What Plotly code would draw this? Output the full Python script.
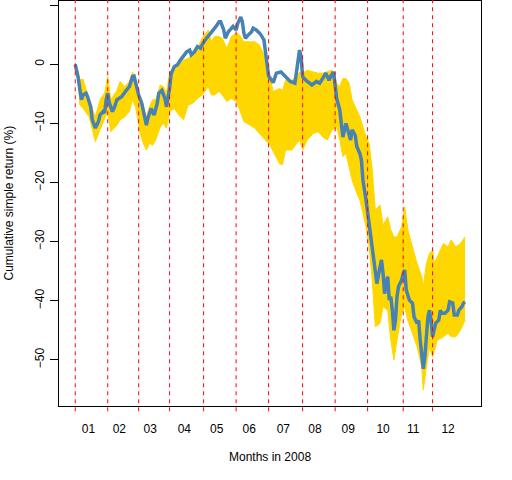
import plotly.graph_objects as go

# ---- data (trading-day index, % return) ----
blue_day = [1, 2, 3, 4, 5, 6, 8, 9, 11, 12, 14, 16, 17, 19, 20, 21, 22, 23, 25, 26, 28, 31, 33, 34, 36, 38, 39, 40,
            42, 44, 45, 47, 48, 50, 52, 54, 55, 57, 59, 60, 62, 63, 65, 67, 69, 71, 73, 75, 76, 78, 80, 82, 83, 85,
            87, 89, 90, 92, 94, 95, 97, 98, 100, 102, 103, 105, 106, 108, 109, 110, 111, 113, 115, 116, 118, 120,
            121, 123, 124, 125, 126, 129, 131, 134, 136, 138, 140, 143, 144, 146, 147, 148, 150, 152, 154, 157, 159,
            161, 163, 165, 166, 168, 169, 170, 172, 173, 174, 176, 177, 179, 180, 182, 183, 185, 186, 187, 189, 191,
            192, 194, 195, 196, 198, 199, 200, 201, 202, 203, 204, 205, 206, 207, 208, 209, 210, 212, 213, 214, 215,
            217, 219, 220, 222, 223, 224, 226, 227, 228, 229, 230, 231, 232, 233, 234, 236, 237, 238, 240, 242, 243,
            245, 246, 248, 249, 251, 252, 253]
blue_ret = [0.0, -1.0, -2.4, -4.3, -6.0, -5.2, -4.9, -5.5, -7.2, -9.4, -10.8, -9.7, -8.6, -8.0, -8.2, -6.0, -4.9, -6.5,
            -8.0, -7.5, -6.0, -5.5, -4.6, -4.4, -3.8, -2.1, -2.0, -3.2, -5.2, -6.6, -7.7, -10.3, -9.1, -7.5, -8.6, -6.6,
            -4.9, -4.4, -5.8, -7.2, -4.0, -1.6, -0.4, -0.1, 0.7, 1.3, 2.1, 2.4, 1.6, 2.1, 3.0, 2.7, 3.3, 4.1, 4.7, 5.3,
            5.8, 6.4, 7.2, 7.2, 5.8, 4.4, 5.5, 6.1, 6.4, 5.8, 6.9, 8.0, 7.2, 5.3, 4.4, 5.0, 5.5, 6.1, 5.8, 5.3, 5.0, 4.1,
            2.1, 0.7, -2.0, -3.1, -1.5, -1.3, -1.8, -2.4, -2.9, -3.2, -1.5, 2.4, 1.3, -2.1, -2.7, -3.2, -3.5, -2.9, -3.2,
            -2.4, -1.5, -2.7, -2.1, -1.3, -3.2, -5.8, -7.7, -10.3, -12.3, -10.0, -11.1, -12.8, -11.1, -12.0, -13.9,
            -15.1, -16.2, -19.6, -23.0, -26.9, -29.7, -32.6, -35.4, -37.1, -34.3, -33.1, -35.4, -38.8, -37.1, -35.9,
            -39.9, -39.3, -41.6, -45.0, -43.3, -39.3, -37.6, -36.5, -35.4, -34.8, -38.2, -39.9, -40.4, -42.7, -43.8,
            -43.3, -46.7, -51.5, -49.5, -45.5, -42.7, -41.6, -43.3, -46.1, -45.0, -43.8, -43.3, -41.6, -42.1, -42.1,
            -41.6, -40.2, -40.4, -42.4, -42.4, -41.6, -41.0, -40.4, -40.2]

band_day = [1, 3, 4, 6, 10, 14, 17, 20, 22, 24, 28, 30, 33, 36, 38, 40, 43, 45, 47, 49, 51, 53, 56, 58, 60, 62, 65,
            68, 71, 74, 77, 80, 83, 87, 89, 91, 94, 96, 99, 102, 105, 107, 110, 114, 117, 120, 123, 127, 129, 133,
            135, 137, 141, 144, 146, 148, 151, 155, 158, 161, 164, 167, 170, 172, 174, 176, 178, 180, 183, 185, 187,
            189, 191, 193, 195, 198, 200, 203, 205, 207, 209, 212, 214, 216, 219, 222, 225, 226, 228, 230, 232, 233,
            235, 239, 242, 244, 247, 250, 253]
band_upper = [0.0, -1.3, -2.7, -2.5, -6.0, -8.9, -6.0, -4.9, -2.1, -6.0, -4.4, -2.9, -3.8, -2.9, -1.3, -2.9, -6.0,
              -7.2, -8.9, -7.2, -6.0, -6.0, -3.5, -3.8, -4.9, -1.3, -1.0, -0.1, 0.7, 1.0, 1.6, 2.7, 4.4, 5.8, 3.8,
              4.7, 4.7, 4.4, 2.7, 4.7, 5.3, 5.0, 3.8, 3.8, 3.8, 3.3, 1.6, -2.4, -4.6, -4.1, -4.4, -2.7, -2.7, -2.1,
              -1.3, -1.5, -1.0, -1.3, -1.5, -1.5, -1.3, -1.0, -3.2, -3.8, -2.4, -2.4, -3.2, -6.0, -7.7, -8.9, -10.6,
              -12.3, -13.4, -17.9, -24.7, -23.8, -27.2, -25.8, -28.0, -29.2, -29.2, -27.5, -24.1, -28.0, -30.9,
              -33.7, -35.9, -37.6, -33.7, -32.0, -31.4, -33.7, -32.6, -30.3, -30.9, -29.7, -30.9, -30.3, -29.2]
band_lower = [0.0, -3.0, -6.9, -7.4, -8.9, -13.1, -11.1, -9.4, -8.0, -11.4, -10.3, -9.4, -8.9, -8.0, -6.0, -7.2,
              -11.7, -13.4, -14.5, -13.4, -13.7, -12.8, -10.6, -10.0, -10.8, -8.0, -7.5, -8.6, -9.4, -6.9, -6.6, -5.8,
              -5.2, -3.8, -5.2, -5.2, -4.6, -5.2, -6.3, -5.8, -6.3, -7.5, -9.7, -10.3, -10.8, -11.7, -12.5, -13.7,
              -14.8, -16.8, -17.0, -14.5, -14.5, -13.4, -12.8, -14.5, -12.8, -11.7, -11.4, -12.3, -12.8, -11.1,
              -10.6, -12.8, -15.6, -15.1, -17.3, -19.6, -21.8, -23.0, -25.2, -27.5, -30.9, -36.5, -44.4, -43.8,
              -41.0, -41.6, -46.7, -50.0, -46.7, -42.1, -41.0, -43.3, -45.5, -47.8, -51.2, -55.1, -51.2, -47.8,
              -49.5, -48.4, -46.7, -46.1, -45.5, -46.1, -46.1, -45.0, -43.3]

month_start = [1, 22, 42, 62, 84, 105, 126, 148, 169, 190, 213, 232]
month_tick_pos = [9.5, 29.5, 49.5, 71.5, 92.5, 113.5, 135.5, 156, 177.5, 200, 219.5, 242]
month_labels = ["01", "02", "03", "04", "05", "06", "07", "08", "09", "10", "11", "12"]
y_ticks = [-50, -40, -30, -20, -10, 0, 10]

FONT = "Liberation Sans, Arial, sans-serif"

fig = go.Figure()
fig.add_trace(go.Scatter(x=band_day, y=band_lower, mode="lines",
                         line=dict(color="#FFD700", width=1), hoverinfo="skip", showlegend=False))
fig.add_trace(go.Scatter(x=band_day, y=band_upper, mode="lines", fill="tonexty",
                         fillcolor="#FFD700", line=dict(color="#FFD700", width=1),
                         hoverinfo="skip", showlegend=False))
fig.add_trace(go.Scatter(x=blue_day, y=blue_ret, mode="lines",
                         line=dict(color="#4682B4", width=3.5), showlegend=False))

for d in month_start:
    fig.add_shape(type="line", xref="x", yref="paper", x0=d, x1=d, y0=-0.013, y1=1.003,
                  line=dict(color="red", width=1, dash="4px,4px"), layer="above")

fig.update_layout(
    width=512, height=480,
    margin=dict(l=59, r=31, t=1, b=74, autoexpand=False),
    paper_bgcolor="white", plot_bgcolor="white",
    font=dict(family=FONT, size=12, color="black"),
    xaxis=dict(range=[-9.5, 263.3], tickvals=month_tick_pos, ticktext=month_labels,
               ticks="", showgrid=False, zeroline=False, showline=True, mirror=True,
               linecolor="black", linewidth=1, ticklabelstandoff=12,
               tickfont=dict(family=FONT, size=12, color="black")),
    yaxis=dict(range=[-57.8, 10.7], tickvals=y_ticks, ticks="outside", ticklen=8,
               tickcolor="black", tickangle=-90, showgrid=False, zeroline=False,
               showline=True, mirror=True, linecolor="black", linewidth=1,
               ticklabelstandoff=1, tickfont=dict(family=FONT, size=12, color="black")),
    annotations=[
        dict(text="Months in 2008", xref="paper", yref="paper", x=0.5, y=0,
             xanchor="center", yanchor="middle", yshift=-51, showarrow=False,
             font=dict(family=FONT, size=12, color="black")),
        dict(text="Cumulative simple return (%)", xref="paper", yref="paper", x=0, y=0.5,
             xanchor="center", yanchor="middle", xshift=-51, textangle=-90, showarrow=False,
             font=dict(family=FONT, size=12, color="black")),
    ],
)

fig.write_html("out.html", config={"displayModeBar": False},
               post_script="document.body.style.margin='0';document.body.style.padding='0';")
